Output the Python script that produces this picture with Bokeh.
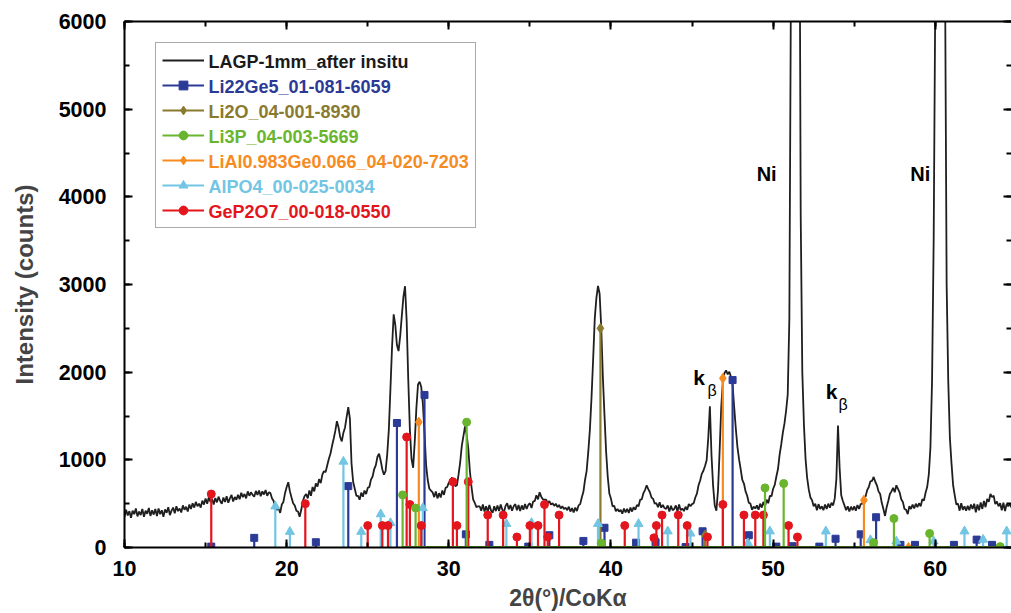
from bokeh.plotting import figure
from bokeh.models import (LinearAxis, Legend, LegendItem, Label,
                          ColumnDataSource, SingleIntervalTicker)
from bokeh.embed import file_html
from bokeh.resources import INLINE

# ---------------- data ----------------
start_2theta = 10.0
step_2theta = 0.1
counts = [
    350, 430, 365, 415, 340, 420, 380, 445, 355, 410,
    370, 440, 350, 420, 385, 450, 360, 425, 375, 440,
    360, 445, 380, 425, 350, 435, 395, 460, 370, 420,
    455, 390, 470, 415, 445, 400, 480, 430, 465, 410,
    490, 440, 505, 455, 520, 470, 500, 455, 535, 490,
    560, 500, 575, 520, 555, 490, 565, 515, 580, 530,
    500, 570, 520, 585, 510, 560, 600, 525, 575, 545,
    600, 550, 625, 575, 610, 560, 640, 590, 630, 600,
    580, 645, 600, 650, 585, 640, 605, 655, 590, 630,
    620, 560, 530, 440, 430, 450, 395, 490, 520, 620,
    690, 745, 640, 570, 505, 480, 420, 410, 350, 430,
    530, 585, 610, 560, 650, 590, 690, 640, 730, 695,
    780, 735, 830, 870, 860, 935, 1010, 1070, 1160, 1240,
    1330, 1440, 1370, 1260, 1210, 1310, 1370, 1490, 1600, 1470,
    960, 750, 670, 590, 590, 545, 625, 580, 650, 610,
    680, 690, 775, 810, 895, 940, 1035, 1070, 990, 890,
    830, 870, 1060, 1340, 1810, 2290, 2660, 2540, 2310, 2240,
    2410, 2640, 2860, 2980, 2590, 1910, 1340, 1010, 910, 1210,
    1590, 1860, 1890, 1830, 1640, 1310, 940, 770, 670, 650,
    630, 575, 640, 560, 620, 570, 650, 600, 680, 690,
    740, 750, 800, 730, 700, 710, 830, 970, 1160, 1270,
    1380, 1290, 1130, 870, 690, 550, 510, 460, 470, 470,
    420, 490, 410, 470, 405, 485, 425, 395, 470, 415,
    480, 415, 490, 430, 405, 475, 505, 435, 485, 420,
    470, 495, 425, 485, 415, 480, 430, 495, 440, 485,
    505, 450, 525, 530, 595, 550, 630, 580, 550, 545,
    545, 505, 530, 490, 505, 475, 500, 460, 485, 445,
    470, 440, 455, 425, 465, 410, 450, 400, 455, 415,
    480, 495, 570, 635, 770, 875, 1090, 1345, 1710, 2145,
    2610, 2845, 2985, 2895, 2510, 1945, 1510, 1095, 810, 615,
    555, 470, 475, 415, 440, 410, 430, 385, 445, 400,
    440, 395, 455, 410, 460, 430, 485, 470, 545, 550,
    620, 655, 710, 665, 630, 570, 555, 500, 505, 460,
    515, 455, 485, 450, 440, 480, 410, 475, 425, 440,
    480, 410, 490, 425, 445, 415, 465, 430, 495, 470,
    495, 505, 570, 615, 710, 765, 840, 875, 930, 995,
    1250, 1610, 1050, 700, 480, 420, 650, 1100, 1600, 1900,
    1990, 2020, 1975, 2005, 1945, 1855, 1595, 1355, 1145, 1005,
    890, 770, 730, 640, 590, 510, 500, 430, 465, 445,
    480, 430, 500, 455, 520, 470, 545, 505, 590, 585,
    670, 715, 810, 895, 1060, 1175, 1310, 1415, 1560, 1745,
    2600, 6500, 9000, 10500, 11000, 10500, 9000, 3800, 2000, 1400,
    1010, 790, 660, 570, 540, 470, 500, 425, 495, 440,
    470, 425, 490, 440, 500, 455, 510, 480, 560, 780,
    1390, 910, 595, 530, 480, 425, 470, 410, 465, 425,
    470, 420, 485, 440, 495, 500, 565, 580, 655, 690,
    755, 760, 805, 750, 710, 640, 610, 510, 440, 360,
    460, 530, 610, 640, 680, 630, 710, 670, 630, 550,
    520, 440, 430, 380, 470, 440, 490, 445, 500, 460,
    505, 470, 550, 535, 625, 690, 830, 1140, 1900, 3500,
    6300, 9000, 11000, 11500, 11000, 10000, 6600, 3000, 1900, 1250,
    960, 710, 595, 490, 500, 420, 505, 430, 470, 420,
    475, 425, 490, 440, 500, 400, 490, 425, 515, 440,
    530, 460, 555, 520, 610, 575, 590, 495, 525, 470,
    505, 425, 510, 415, 495, 470, 500, 455,
]
two_theta = [round(start_2theta + step_2theta * i, 2) for i in range(len(counts))]

li22ge5_x = [15.35, 18.0, 21.8, 23.8, 26.8, 28.5, 31.05, 32.5, 34.9, 36.2,
             38.3, 39.6, 41.55, 42.75, 44.6, 45.65, 47.5, 48.5, 50.2, 51.2,
             52.85, 53.85, 55.4, 56.35, 57.85, 58.75, 61.15, 62.55, 63.5]
li22ge5_y = [10, 110, 60, 700, 1420, 1740, 150, 30, 10, 140,
             75, 225, 55, 60, 5, 185, 1910, 140, 10, 15,
             10, 100, 150, 345, 30, 30, 30, 90, 30]

li2o_x = [39.35, 45.8]
li2o_y = [2500, 140]

li3p_x = [27.15, 27.95, 31.1, 39.4, 49.5, 50.65, 56.2, 57.45, 59.65, 64.0]
li3p_y = [600, 450, 1430, 50, 680, 730, 55, 330, 160, 10]

lial_x = [28.15, 46.9, 55.6, 58.35]
lial_y = [1430, 1930, 540, 0]

alpo4_x = [19.3, 20.2, 23.5, 24.6, 25.8, 26.4, 28.4, 33.55, 35.1, 39.2, 41.7,
           43.5, 44.9, 48.45, 49.8, 53.25, 56.0, 57.6, 59.9, 61.8, 62.95, 64.4]
alpo4_y = [470, 180, 980, 180, 380, 280, 450, 270, 280, 270, 270,
           185, 160, 50, 185, 185, 85, 70, 70, 185, 90, 185]

gep2o7_x = [15.35, 21.15, 25.0, 25.9, 26.25, 27.4, 27.6, 28.3, 30.25, 30.5,
            31.2, 32.4, 33.35, 34.2, 35.0, 35.5, 35.9, 36.1, 36.8, 40.85,
            42.65, 42.8, 43.15, 44.15, 44.7, 45.95, 46.9, 48.2, 48.9, 49.4,
            50.95, 51.5]
gep2o7_y = [610, 500, 250, 250, 250, 1260, 490, 250, 750, 250,
            750, 370, 370, 120, 250, 250, 490, 120, 370, 250,
            110, 250, 370, 370, 250, 120, 490, 370, 370, 370,
            250, 120]

legend_labels = ["LAGP-1mm_after insitu", "Li22Ge5_01-081-6059", "Li2O_04-001-8930",
                 "Li3P_04-003-5669", "LiAl0.983Ge0.066_04-020-7203",
                 "AlPO4_00-025-0034", "GeP2O7_00-018-0550"]

# ---------------- layout / styling ----------------
FONT = "Liberation Sans"
C_CURVE = "#1f1f1f"
C_BLUE = "#2b3a97"
C_OLIVE = "#8a7a2e"
C_GREEN = "#69b52e"
C_ORANGE = "#f68b1f"
C_LBLUE = "#72c5e3"
C_RED = "#e3151d"

W, H = 1011, 613
B_LEFT, B_TOP, B_BOTTOM, B_RIGHT = 124, 21, 65, 0
X0, X1, Y0, Y1 = 10, 64.7, 0, 6000
FRAME_W = W - B_LEFT - B_RIGHT
FRAME_H = H - B_TOP - B_BOTTOM

p = figure(width=W, height=H, x_range=(X0, X1), y_range=(Y0, Y1),
           output_backend="svg", toolbar_location=None,
           x_axis_location=None, y_axis_location=None,
           min_border_left=B_LEFT, min_border_right=B_RIGHT,
           min_border_top=B_TOP, min_border_bottom=B_BOTTOM)
p.outline_line_color = None
p.xgrid.visible = False
p.ygrid.visible = False
p.background_fill_color = "white"
p.border_fill_color = "white"


def style_axis(ax, show_labels=True, show_line=True):
    ax.axis_line_width = 2
    ax.axis_line_color = "black" if show_line else None
    ax.major_tick_in = 8
    ax.major_tick_out = 0
    ax.minor_tick_in = 5
    ax.minor_tick_out = 0
    ax.major_tick_line_width = 2
    ax.minor_tick_line_width = 2
    ax.major_label_text_font = FONT
    ax.major_label_text_font_style = "bold"
    ax.major_label_text_color = "black"
    if not show_labels:
        # tick marks only: labels are not drawn at all
        ax.major_label_text_font_size = "1px"
        ax.major_label_text_color = None
        ax.major_label_standoff = 0
    return ax


xb = LinearAxis(ticker=SingleIntervalTicker(interval=10, num_minor_ticks=2),
                axis_label="2θ(°)/CoKα")
style_axis(xb)
xb.major_label_text_font_size = "21.5px"
xb.major_label_standoff = 13
xb.axis_label_standoff = 6
xb.axis_label_text_font = FONT
xb.axis_label_text_font_style = "bold"
xb.axis_label_text_font_size = "23px"
p.add_layout(xb, "below")

yl = LinearAxis(ticker=SingleIntervalTicker(interval=1000, num_minor_ticks=2),
                axis_label="Intensity (counts)")
style_axis(yl)
yl.major_label_text_font_size = "21.5px"
yl.major_label_standoff = 18
yl.axis_label_standoff = 18
yl.axis_label_text_font = FONT
yl.axis_label_text_font_style = "bold"
yl.axis_label_text_font_size = "24px"
p.add_layout(yl, "left")

xt = LinearAxis(ticker=SingleIntervalTicker(interval=10, num_minor_ticks=2))
style_axis(xt, show_labels=False)
p.add_layout(xt, "above")

yr = LinearAxis(ticker=SingleIntervalTicker(interval=1000, num_minor_ticks=2))
style_axis(yr, show_labels=False, show_line=False)
p.add_layout(yr, "right")

# ---------------- curve ----------------
r_curve = p.line(two_theta, counts, line_color=C_CURVE, line_width=1.8)


# ---------------- stick patterns ----------------
def sticks(xs, ys, color, marker, size):
    src = ColumnDataSource(dict(x=xs, y=ys, y0=[0] * len(xs)))
    seg = p.segment(x0="x", y0="y0", x1="x", y1="y", source=src,
                    line_color=color, line_width=2.2)
    sc = p.scatter(x="x", y="y", source=src, marker=marker, size=size,
                   fill_color=color, line_color=color)
    return [seg, sc]


rs_blue = sticks(li22ge5_x, li22ge5_y, C_BLUE, "square", 7)
rs_olive = sticks(li2o_x, li2o_y, C_OLIVE, "diamond", 10)
rs_lblue = sticks(alpo4_x, alpo4_y, C_LBLUE, "triangle", 9)
rs_orange = sticks(lial_x, lial_y, C_ORANGE, "diamond", 10)
rs_red = sticks(gep2o7_x, gep2o7_y, C_RED, "circle", 8)
rs_green = sticks(li3p_x, li3p_y, C_GREEN, "circle", 8)
p.line([min(li3p_x), max(li3p_x)], [0, 0], line_color=C_GREEN, line_width=3)

# ---------------- legend ----------------
items = [
    LegendItem(label=legend_labels[0], renderers=[r_curve]),
    LegendItem(label=legend_labels[1], renderers=rs_blue),
    LegendItem(label=legend_labels[2], renderers=rs_olive),
    LegendItem(label=legend_labels[3], renderers=rs_green),
    LegendItem(label=legend_labels[4], renderers=rs_orange),
    LegendItem(label=legend_labels[5], renderers=rs_lblue),
    LegendItem(label=legend_labels[6], renderers=rs_red),
]
legend_colors = ["#1a1a1a", C_BLUE, C_OLIVE, C_GREEN, C_ORANGE, C_LBLUE, C_RED]

LEG_X, LEG_Y = 31, 319          # bottom-left corner, px from frame's bottom-left
LEG_PAD, LEG_ROW, LEG_SP, LEG_GLYPH, LEG_STAND = 6, 22, 3, 42, 5
legend = Legend(items=items, location=(LEG_X, LEG_Y), orientation="vertical",
                glyph_width=LEG_GLYPH, glyph_height=LEG_ROW, label_height=LEG_ROW,
                spacing=LEG_SP, padding=LEG_PAD, label_standoff=LEG_STAND, margin=0,
                label_text_font=FONT, label_text_font_style="bold",
                label_text_font_size="18px", label_text_color=None,
                border_line_color="#555555", border_line_width=1.2,
                background_fill_alpha=0)
p.add_layout(legend)

# coloured legend texts, placed in the legend's (undrawn) label slots
leg_h = 2 * LEG_PAD + 7 * LEG_ROW + 6 * LEG_SP
leg_top_px = LEG_Y + leg_h                                  # from frame bottom
text_px_x = LEG_X + LEG_PAD + LEG_GLYPH + LEG_STAND
for i, (txt, col) in enumerate(zip(legend_labels, legend_colors)):
    py = leg_top_px - LEG_PAD - LEG_ROW / 2 - i * (LEG_ROW + LEG_SP)
    p.add_layout(Label(x=X0 + text_px_x * (X1 - X0) / FRAME_W,
                       y=Y0 + py * (Y1 - Y0) / FRAME_H,
                       text=txt, text_font=FONT, text_font_style="bold",
                       text_font_size="18px", text_color=col,
                       text_baseline="middle", text_align="left", level="overlay"))

# ---------------- peak annotations ----------------
ni_pos = [(49.6, 4260), (59.07, 4260)]
for (x, y) in ni_pos:
    p.add_layout(Label(x=x, y=y, text="Ni", text_font=FONT, text_font_style="bold",
                       text_font_size="20px", text_align="center", text_baseline="middle",
                       text_color="black"))

kb_pos = [((45.43, 1936), (46.23, 1788)), ((53.61, 1777), (54.32, 1629))]
for (kx, ky), (bx, by) in kb_pos:
    p.add_layout(Label(x=kx, y=ky, text="k", text_font=FONT, text_font_style="bold",
                       text_font_size="21px", text_align="center", text_baseline="middle",
                       text_color="black"))
    p.add_layout(Label(x=bx, y=by, text="β", text_font=FONT, text_font_style="normal",
                       text_font_size="16px", text_align="center", text_baseline="middle",
                       text_color="black"))

open("out.html", "w").write(file_html(p, INLINE))
